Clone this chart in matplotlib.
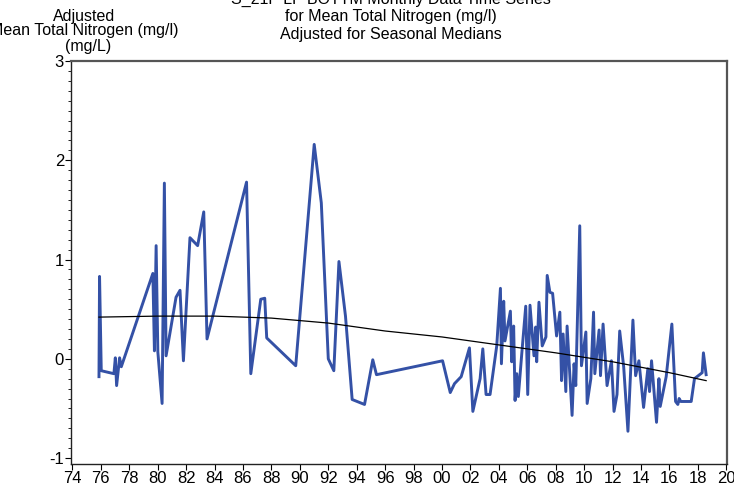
import matplotlib
matplotlib.use("Agg")
import matplotlib.pyplot as plt
import numpy as np
from matplotlib.ticker import MultipleLocator

plt.rcParams['font.family'] = ['Liberation Sans', 'DejaVu Sans']

# adjusted monthly values (decimal year, mg/L)
years = [1975.87, 1975.91, 1976.03, 1976.92, 1977.02, 1977.11, 1977.32, 1977.44,
         1979.66, 1979.77, 1979.89, 1980.01, 1980.31, 1980.47, 1980.59, 1981.29,
         1981.57, 1981.81, 1982.27, 1982.81, 1983.24, 1983.47, 1986.25, 1986.55,
         1987.25, 1987.53, 1987.67, 1989.71, 1991.01, 1991.51, 1992.00, 1992.39,
         1992.75, 1993.21, 1993.68, 1994.55, 1995.13, 1995.39, 2000.04, 2000.58,
         2000.88, 2001.35, 2001.93, 2002.17, 2002.68, 2002.87, 2003.10, 2003.38,
         2003.85, 2004.11, 2004.18, 2004.34, 2004.43, 2004.81, 2004.90, 2005.04,
         2005.14, 2005.26, 2005.37, 2005.61, 2005.89, 2006.03, 2006.19, 2006.47,
         2006.59, 2006.66, 2006.82, 2007.05, 2007.31, 2007.40, 2007.59, 2007.78,
         2008.06, 2008.29, 2008.41, 2008.52, 2008.71, 2008.80, 2009.15, 2009.29,
         2009.41, 2009.69, 2009.81, 2010.12, 2010.21, 2010.47, 2010.66, 2010.75,
         2011.05, 2011.15, 2011.33, 2011.61, 2011.92, 2012.10, 2012.31, 2012.50,
         2012.78, 2013.08, 2013.43, 2013.62, 2013.85, 2014.18, 2014.48, 2014.60,
         2014.74, 2015.09, 2015.26, 2015.35, 2015.77, 2016.17, 2016.43, 2016.59,
         2016.68, 2016.80, 2017.53, 2017.76, 2018.30, 2018.39, 2018.58]
values = [-0.18, 0.83, -0.12, -0.15, 0.01, -0.27, 0.01, -0.08,
          0.86, 0.08, 1.14, 0.07, -0.45, 1.77, 0.03, 0.62,
          0.69, -0.02, 1.22, 1.14, 1.48, 0.20, 1.78, -0.15,
          0.60, 0.61, 0.21, -0.07, 2.16, 1.57, 0.00, -0.12,
          0.98, 0.43, -0.41, -0.46, -0.01, -0.16, -0.02, -0.34,
          -0.25, -0.18, 0.11, -0.53, -0.20, 0.10, -0.36, -0.36,
          0.13, 0.71, -0.05, 0.58, 0.18, 0.48, -0.03, 0.33,
          -0.42, -0.15, -0.38, 0.05, 0.53, -0.36, 0.54, 0.03,
          0.32, -0.03, 0.57, 0.13, 0.22, 0.84, 0.67, 0.66,
          0.23, 0.47, -0.22, 0.25, -0.33, 0.33, -0.57, -0.05,
          -0.27, 1.34, -0.07, 0.27, -0.45, -0.20, 0.47, -0.15,
          0.29, -0.17, 0.35, -0.27, -0.02, -0.53, -0.36, 0.28,
          -0.08, -0.73, 0.39, -0.17, -0.02, -0.49, -0.10, -0.33,
          -0.02, -0.64, -0.20, -0.48, -0.18, 0.35, -0.43, -0.46,
          -0.40, -0.43, -0.43, -0.20, -0.14, 0.06, -0.16]

# smooth trend
trend_years = [1975.87, 1980, 1984, 1988, 1992, 1996, 2000, 2004, 2008, 2012, 2016, 2018.58]
trend_values = [0.42, 0.43, 0.43, 0.41, 0.36, 0.28, 0.22, 0.14, 0.06, -0.03, -0.14, -0.22]

xtick_years = list(range(1974, 2021, 2))
xtick_labels = ["%02d" % (y % 100) for y in xtick_years]

fig = plt.figure(figsize=(7.34, 4.87), dpi=100)
ax = fig.add_axes([0.0967, 0.0472, 0.8938, 0.8275])

ax.plot(years, values, color="#3451a6", linewidth=2.1, zorder=3)
ax.plot(trend_years, trend_values, color="black", linewidth=0.9, zorder=4)

ax.set_xlim(1973.9, 2020.05)
ax.set_ylim(-1.06, 3.0)
ax.set_xticks(xtick_years)
ax.set_xticklabels(xtick_labels, fontsize=12)
ax.set_yticks([-1, 0, 1, 2, 3])
ax.set_yticklabels(["-1", "0", "1", "2", "3"], fontsize=12)
ax.yaxis.set_minor_locator(MultipleLocator(0.1))
ax.tick_params(axis='both', which='major', direction='out', length=4, width=0.8, pad=1)
ax.tick_params(axis='y', which='minor', direction='out', length=2, width=0.6)

for side in ['left', 'bottom']:
    ax.spines[side].set_linewidth(1.0)
    ax.spines[side].set_color('#222222')
for side in ['top', 'right']:
    ax.spines[side].set_linewidth(1.6)
    ax.spines[side].set_color('#555555')

# title lines
fig.text(391/734, 1 - (-1)/487, "S_21P LP BOTTM Monthly Data Time Series",
         ha='center', va='center', fontsize=11.5)
fig.text(391/734, 1 - 16/487, "for Mean Total Nitrogen (mg/l)",
         ha='center', va='center', fontsize=11.5)
fig.text(391/734, 1 - 34/487, "Adjusted for Seasonal Medians",
         ha='center', va='center', fontsize=11.5)

# y axis label
fig.text(84/734, 1 - 16/487, "Adjusted", ha='center', va='center', fontsize=11.5)
fig.text(84/734, 1 - 31/487, "Mean Total Nitrogen (mg/l)", ha='center', va='center', fontsize=11.5)
fig.text(88/734, 1 - 46/487, "(mg/L)", ha='center', va='center', fontsize=11.5)

fig.savefig("out.png", dpi=100)
